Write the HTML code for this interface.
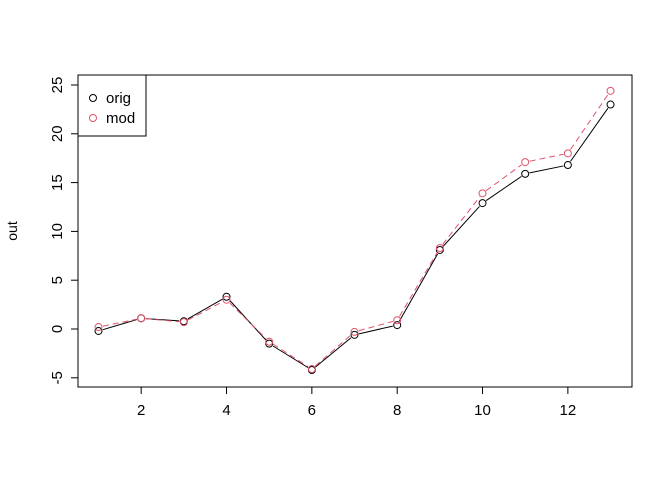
<!DOCTYPE html>
<html><head><meta charset="utf-8"><style>
body{margin:0;background:#fff;}
svg{display:block;font-family:"Liberation Sans",Arial,sans-serif;}
</style></head><body>
<svg id="chart" width="672" height="480">
<rect x="78" y="75" width="554" height="312" fill="none" stroke="#000"/>
<g id="axes"></g><g id="series"></g>
<text x="17" y="231" font-size="14" text-anchor="middle" transform="rotate(-90 17 231)">out</text>
<g>
<rect x="78" y="75" width="68" height="61" fill="#fff" stroke="#000"/>
<circle cx="93" cy="98" r="3.5" fill="none" stroke="#000"/>
<text x="106" y="103" font-size="15">orig</text>
<circle cx="93" cy="118" r="3.5" fill="none" stroke="#DF536B"/>
<text x="106" y="123" font-size="15">mod</text>
</g>
</svg>
<script>
const xs=[1,2,3,4,5,6,7,8,9,10,11,12,13];
const origVals=[-0.2,1.1,0.8,3.3,-1.5,-4.2,-0.6,0.4,8.1,12.9,15.9,16.8,23.0];
const modVals=[0.2,1.1,0.7,3.0,-1.3,-4.1,-0.3,0.9,8.3,13.9,17.1,18.0,24.4];
const xTicks=[2,4,6,8,10,12];
const yTicks=[-5,0,5,10,15,20,25];
const NS="http://www.w3.org/2000/svg";
function sx(v){return 98.5+(v-1)*42.67;}
function sy(v){return 329-v*9.76;}
function mk(t,a,p){const e=document.createElementNS(NS,t);for(const k in a)e.setAttribute(k,a[k]);p.appendChild(e);return e;}
const ax=document.getElementById('axes'),se=document.getElementById('series');
mk('line',{x1:sx(2),x2:sx(12),y1:387,y2:387,stroke:'#000'},ax);
xTicks.forEach(t=>{mk('line',{x1:sx(t),x2:sx(t),y1:387,y2:394,stroke:'#000'},ax);
const tx=mk('text',{x:sx(t),y:415,'font-size':15,'text-anchor':'middle'},ax);tx.textContent=t;

});
mk('line',{x1:78,x2:78,y1:sy(-5),y2:sy(25),stroke:'#000'},ax);
yTicks.forEach(t=>{mk('line',{x1:71,x2:78,y1:sy(t),y2:sy(t),stroke:'#000'},ax);
const tx=mk('text',{x:62,y:sy(t),'font-size':15,'text-anchor':'middle',transform:`rotate(-90 62 ${sy(t)})`},ax);tx.textContent=t;

});
function draw(vals,col,dash,name){
 const segs=[];
 for(let i=0;i<vals.length-1;i++){
  const x1=sx(xs[i]),y1=sy(vals[i]),x2=sx(xs[i+1]),y2=sy(vals[i+1]);
  const d=Math.hypot(x2-x1,y2-y1),s=4.5/d;
  segs.push(`M${x1+(x2-x1)*s},${y1+(y2-y1)*s}L${x2-(x2-x1)*s},${y2-(y2-y1)*s}`);
 }
 const p=mk('path',{d:segs.join(''),fill:'none',stroke:col,'stroke-dasharray':dash},se);
 
 
 vals.forEach((v,i)=>{const c=mk('circle',{cx:sx(xs[i]),cy:sy(v),r:3.5,fill:'none',stroke:col},se);
 
 });
}
draw(origVals,'#000','none','orig');
draw(modVals,'#DF536B','6 4','mod');
</script>
</body></html>
